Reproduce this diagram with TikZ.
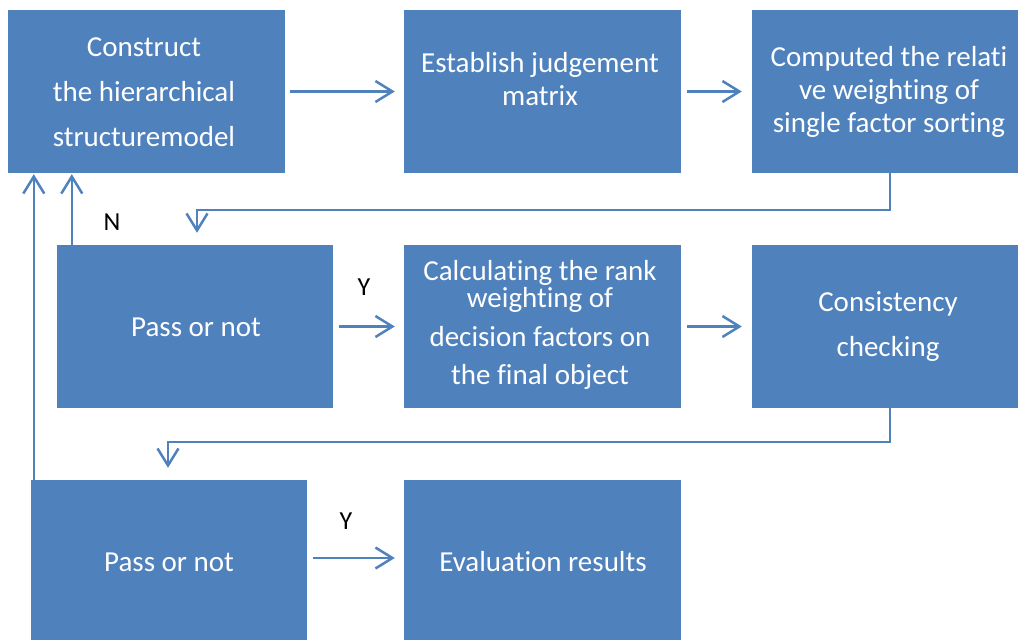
\documentclass[tikz,border=0pt]{standalone}
\usepackage{fontspec}
\setmainfont[Ligatures=CommonOff]{Carlito}
\usetikzlibrary{arrows.meta}
\definecolor{boxblue}{HTML}{4F81BD}
\tikzset{
  box/.style={fill=boxblue, draw=none, inner sep=0pt, minimum height=163pt},
  txt/.style={text=white, align=center, inner sep=0pt, font=\fontsize{29}{33}\selectfont},
  yn/.style={text=black, inner sep=0pt, font=\fontsize{26}{30}\selectfont},
  arr/.style={draw=boxblue, line width=2.5pt, -{Straight Barb[length=17pt,width=21pt,line width=2.5pt]}},
}
\begin{document}
\begin{tikzpicture}[x=1pt,y=-1pt]
\useasboundingbox (0,0) rectangle (1018,640);
% boxes
\node[box, minimum width=277pt] (A) at (146.5,91.5) {};
\node[box, minimum width=277pt] (B) at (542.5,91.5) {};
\node[box, minimum width=266pt] (C) at (885,91.5) {};
\node[box, minimum width=276pt] (D) at (195,326.5) {};
\node[box, minimum width=277pt] (E) at (542.5,326.5) {};
\node[box, minimum width=266pt] (F) at (885,326.5) {};
\node[box, minimum width=276pt, minimum height=160pt] (G) at (169,560) {};
\node[box, minimum width=277pt, minimum height=160pt] (H) at (542.5,560) {};
% texts
\node[txt] (At) at (144,92) {Construct\\[12pt]the hierarchical\\[12pt]structuremodel};
\node[txt] (Bt) at (540,79) {Establish judgement\\matrix};
\node[txt] (Ct) at (889,92) {Computed the relati\\ve weighting of\\single factor sorting};
\node[txt] (Dt) at (196,327) {Pass or not};
\node[txt] (Et) at (540,325) {Calculating the rank\\[-6pt]weighting of\\[6pt]decision factors on\\[5pt]the final object};
\node[txt] (Ft) at (888,327) {Consistency\\[12pt]checking};
\node[txt] (Gt) at (169,562) {Pass or not};
\node[txt] (Ht) at (543,562) {Evaluation results};
% labels
\node[yn] (N1) at (112,222) {N};
\node[yn] (Y1) at (364,287) {Y};
\node[yn] (Y2) at (346,521) {Y};
% connectors
\draw[arr, shorten <=5pt, shorten >=9pt] (A.east) -- (B.west);
\draw[arr, shorten <=6pt, shorten >=10pt] (B.east) -- (C.west);
\draw[arr, shorten >=12pt] ([xshift=5pt]C.south) -- ++(0,37) -| ([xshift=2pt]D.north);
\draw[arr, shorten <=6pt, shorten >=9pt] (D.east) -- (E.west);
\draw[arr, shorten <=6pt, shorten >=10pt] (E.east) -- (F.west);
\draw[arr, shorten >=12pt] ([xshift=5pt]F.south) -- ++(0,34) -| ([xshift=-1pt]G.north);
\draw[arr, shorten <=6pt, shorten >=9pt] ([yshift=2pt]G.east) -- ([yshift=2pt]H.west);
\coordinate (Dup) at ([xshift=15pt]D.north west);
\coordinate (Gup) at ([xshift=3pt]G.north west);
\draw[arr, shorten >=1pt] (Dup) -- (Dup |- A.south);
\draw[arr, shorten >=1pt] (Gup) -- (Gup |- A.south);
\end{tikzpicture}
\end{document}
